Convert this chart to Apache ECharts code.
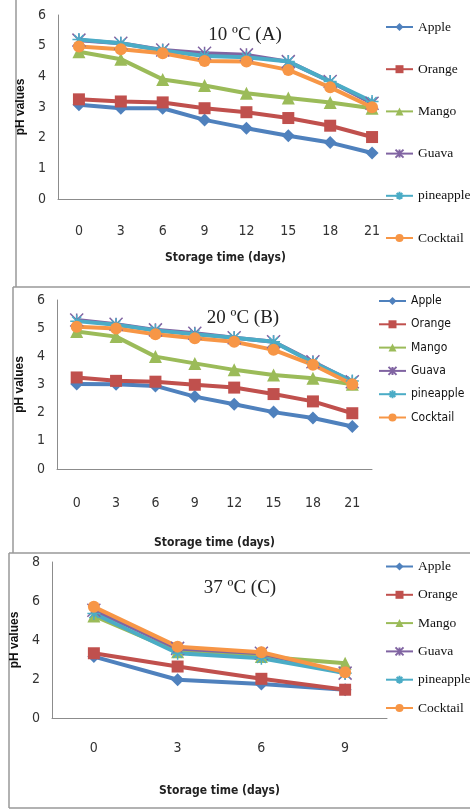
<!DOCTYPE html>
<html>
<head>
<meta charset="utf-8">
<script src="https://cdn.jsdelivr.net/npm/echarts@6/dist/echarts.min.js"></script>
<style>
  html, body { margin: 0; padding: 0; background: #fff; }
  #main { width: 470px; height: 812px; }
</style>
</head>
<body>
<div id="main"></div>
<script>
// storage days
const daysAB = ['0', '3', '6', '9', '12', '15', '18', '21'];
const daysC = ['0', '3', '6', '9'];
const fruits = ['Apple', 'Orange', 'Mango', 'Guava', 'pineapple', 'Cocktail'];

// 10 C (A)
const appleA = [3.07, 2.96, 2.96, 2.58, 2.31, 2.06, 1.84, 1.50];
const orangeA = [3.25, 3.18, 3.15, 2.96, 2.83, 2.64, 2.39, 2.02];
const mangoA = [4.80, 4.56, 3.90, 3.70, 3.45, 3.29, 3.15, 2.96];
const guavaA = [5.18, 5.08, 4.86, 4.75, 4.70, 4.48, 3.83, 3.12];
const pineappleA = [5.20, 5.08, 4.84, 4.66, 4.62, 4.48, 3.83, 3.18];
const cocktailA = [4.97, 4.88, 4.75, 4.50, 4.48, 4.21, 3.64, 2.99];

// 20 C (B)
const appleB = [3.02, 3.01, 2.95, 2.57, 2.30, 2.02, 1.81, 1.51];
const orangeB = [3.25, 3.13, 3.10, 2.99, 2.89, 2.66, 2.40, 1.98];
const mangoB = [4.88, 4.70, 3.99, 3.75, 3.52, 3.34, 3.22, 3.01];
const guavaB = [5.29, 5.14, 4.94, 4.82, 4.66, 4.52, 3.81, 3.10];
const pineappleB = [5.25, 5.12, 4.92, 4.78, 4.66, 4.52, 3.78, 3.12];
const cocktailB = [5.05, 4.99, 4.78, 4.64, 4.52, 4.23, 3.70, 3.01];

// 37 C (C)
const appleC = [3.15, 1.96, 1.74, 1.45];
const orangeC = [3.32, 2.64, 2.01, 1.45];
const mangoC = [5.23, 3.40, 3.15, 2.81];
const guavaC = [5.53, 3.57, 3.32, 2.30];
const pineappleC = [5.36, 3.32, 3.06, 2.30];
const cocktailC = [5.70, 3.66, 3.37, 2.35];

const colors = ['#4F81BD', '#C0504D', '#9BBB59', '#8064A2', '#4BACC6', '#F79646'];
const symbols = [
  'diamond', 'rect', 'triangle',
  'path://M0,0L10,10M10,0L0,10M5,0L5,10',
  'path://M0,5L10,5M5,0L5,10M1.5,1.5L8.5,8.5M8.5,1.5L1.5,8.5',
  'circle'
];
const symSizes = [13, 12, 13, 13, 13, 12];

const serif = "'Liberation Serif', 'DejaVu Serif', serif";
const narrow = "'Liberation Sans Narrow', 'DejaVu Sans Condensed', 'Liberation Sans', sans-serif";
const gray = '#8c8c8c';

const panels = [
  { data: [appleA, orangeA, mangoA, guavaA, pineappleA, cocktailA], days: daysAB },
  { data: [appleB, orangeB, mangoB, guavaB, pineappleB, cocktailB], days: daysAB },
  { data: [appleC, orangeC, mangoC, guavaC, pineappleC, cocktailC], days: daysC }
];

const grids = [
  { left: 58, top: 15, width: 335, height: 184 },
  { left: 57, top: 300, width: 315, height: 169 },
  { left: 52, top: 562, width: 335, height: 156 }
];

const xAxes = panels.map(function (p, i) {
  return {
    type: 'category',
    gridIndex: i,
    data: p.days,
    boundaryGap: true,
    axisLine: { lineStyle: { color: gray, width: 1 } },
    axisTick: { show: false },
    axisLabel: { color: '#333', fontFamily: narrow, fontSize: 14, margin: [25, 27, 23][i] },
    name: 'Storage time (days)',
    nameLocation: 'middle',
    nameGap: [53, 68, 67][i],
    nameTextStyle: { color: '#222', fontFamily: narrow, fontSize: 12, fontWeight: 'bold' }
  };
});

const yAxes = [
  { max: 6, interval: 1 },
  { max: 6, interval: 1 },
  { max: 8, interval: 2 }
].map(function (y, i) {
  return {
    type: 'value',
    gridIndex: i,
    min: 0,
    max: y.max,
    interval: y.interval,
    splitLine: { show: false },
    axisLine: { show: true, lineStyle: { color: gray, width: 1 } },
    axisTick: { show: false },
    axisLabel: { color: '#333', fontFamily: narrow, fontSize: 14, margin: 12 },
    name: 'pH values',
    nameLocation: 'middle',
    nameGap: [18, 19, 16][i],
    nameTextStyle: { color: '#111', fontFamily: "'Liberation Sans', Arial, sans-serif", fontSize: 12, fontWeight: 'bold' }
  };
});

const series = [];
panels.forEach(function (p, i) {
  p.data.forEach(function (vals, k) {
    series.push({
      name: fruits[k],
      type: 'line',
      xAxisIndex: i,
      yAxisIndex: i,
      data: vals,
      symbol: symbols[k],
      symbolSize: symSizes[k],
      lineStyle: { color: colors[k], width: 4 },
      itemStyle: { color: colors[k], borderColor: colors[k], borderWidth: k === 3 || k === 4 ? 1.5 : 0 },
      animation: false
    });
  });
});

const legends = [
  { left: 385, top: 18, itemGap: 24.2, font: serif, size: 13.5, lh: 18 },
  { left: 378, top: 293, itemGap: 7.3, font: narrow, size: 12, lh: 16 },
  { left: 385, top: 558, itemGap: 11.3, font: serif, size: 13.5, lh: 17 }
].map(function (l) {
  return {
    data: fruits,
    orient: 'vertical',
    left: l.left,
    top: l.top,
    padding: 0,
    itemGap: l.itemGap,
    itemWidth: 27,
    itemHeight: 10,
    textStyle: { color: '#111', fontFamily: l.font, fontSize: l.size, lineHeight: l.lh }
  };
});

const titles = [
  { text: '10 ºC (A)', x: 245, y: 35 },
  { text: '20 ºC (B)', x: 243, y: 318 },
  { text: '37 ºC (C)', x: 240, y: 588 }
].map(function (t) {
  return {
    type: 'text',
    x: t.x,
    y: t.y,
    style: { text: t.text, fill: '#222', font: '19px ' + serif, align: 'center', verticalAlign: 'middle' }
  };
});

const border = { stroke: '#999', lineWidth: 1.5 };
const frames = [
  { type: 'line', shape: { x1: 16, y1: 0, x2: 16, y2: 287 }, style: border },
  { type: 'line', shape: { x1: 13, y1: 287, x2: 470, y2: 287 }, style: border },
  { type: 'line', shape: { x1: 13, y1: 287, x2: 13, y2: 553 }, style: border },
  { type: 'line', shape: { x1: 9, y1: 553, x2: 470, y2: 553 }, style: border },
  { type: 'line', shape: { x1: 9, y1: 553, x2: 9, y2: 808 }, style: border },
  { type: 'line', shape: { x1: 9, y1: 808, x2: 470, y2: 808 }, style: border }
];

const chart = echarts.init(document.getElementById('main'), null, { renderer: 'canvas' });
chart.setOption({
  backgroundColor: '#fff',
  animation: false,
  grid: grids,
  xAxis: xAxes,
  yAxis: yAxes,
  legend: legends,
  graphic: frames.concat(titles),
  series: series
});
</script>
</body>
</html>
